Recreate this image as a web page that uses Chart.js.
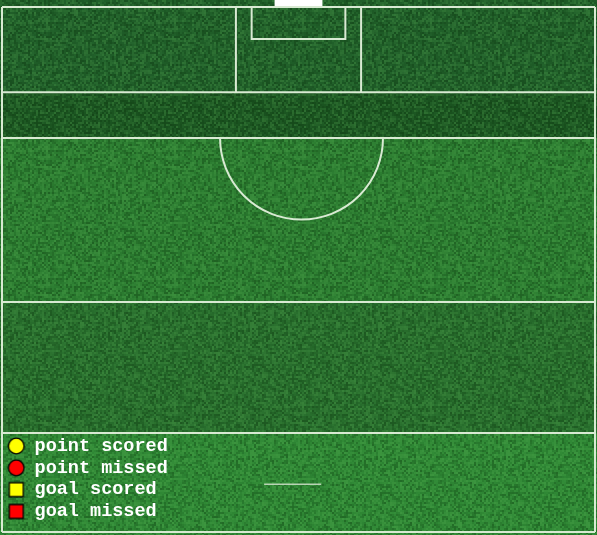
<!DOCTYPE html>
<html>
<head>
<meta charset="utf-8">
<script src="https://cdn.jsdelivr.net/npm/chart.js@4.4.1/dist/chart.umd.min.js"></script>
<style>
html, body { margin: 0; padding: 0; background: #1f5a24; }
#wrap { width: 597px; height: 535px; position: relative; }
</style>
</head>
<body>
<div id="wrap"><canvas id="pitchChart"></canvas></div>
<script>
// legend categories and the shot series (this view has no shots plotted)
const categories = ["point scored", "point missed", "goal scored", "goal missed"];
const fillColors = ["#ffff00", "#ff0000", "#ffff00", "#ff0000"];
const markerStyles = ["circle", "circle", "rect", "rect"];
const pointScored = [];
const pointMissed = [];
const goalScored = [];
const goalMissed = [];
const seriesValues = [pointScored, pointMissed, goalScored, goalMissed];

// pitch in metres: x from left touchline, y from the end line
const PX = 6.554;          // pixels per metre in the picture
const ORIGIN = {x: 2, y: 7};
const pitch = {
    width: 90.48,
    bottom: 80.1,
    lines: [0, 13, 20, 45, 65],
    bigBox: {w: 19.1, d: 13},
    smallBox: {w: 14.3, d: 4.9},
    goalWidth: 7.3,
    arcCentre: 45.7,
    arcRadius: 12.43,
    centreMark: {y: 72.8, x1: 40.0, x2: 48.7}
};
// grass bands (metres) and their colours
const bands = [
    {from: -2, to: 13, color: "#21602a"},
    {from: 13, to: 20, color: "#1d5823"},
    {from: 20, to: 45, color: "#2c7d31"},
    {from: 45, to: 65, color: "#286e2d"},
    {from: 65, to: 90, color: "#2f8835"}
];

function hash(i, j){
    let h = Math.imul(i, 0x27d4eb2d) ^ Math.imul(j + 7919, 0x165667b1);
    h = Math.imul(h ^ (h >>> 15), 0x85ebca6b);
    h ^= h >>> 13;
    h = Math.imul(h, 0xc2b2ae35);
    h ^= h >>> 16;
    return (h >>> 0) / 4294967296;
}

function grassPattern(ctx){
    let c = document.createElement("canvas");
    c.width = 128; c.height = 128;
    let g = c.getContext("2d");
    for (let j = 0; j < 64; j++){
        for (let i = 0; i < 64; i++){
            let v = hash(i, j) - 0.5;
            if (v > 0){
                g.fillStyle = "rgba(110,200,100," + (v * 0.42) + ")";
            } else {
                g.fillStyle = "rgba(0,30,0," + (-v * 0.55) + ")";
            }
            g.fillRect(i * 2, j * 2, 2, 2);
        }
    }
    return ctx.createPattern(c, "repeat");
}

function markerImage(style, color){
    let c = document.createElement("canvas");
    c.width = 18; c.height = 18;
    let g = c.getContext("2d");
    g.fillStyle = color;
    g.strokeStyle = "#000000";
    g.lineWidth = 1.3;
    g.beginPath();
    if (style === "circle"){
        g.arc(9, 9, 7.8, 0, Math.PI * 2);
    } else {
        g.rect(2, 2, 14, 14);
    }
    g.fill();
    g.stroke();
    return c;
}

const pitchPlugin = {
    id: "pitch",
    beforeDraw(chart){
        const ctx = chart.ctx;
        const xs = chart.scales.x, ys = chart.scales.y;
        const W = chart.width, H = chart.height;
        ctx.save();
        // grass
        bands.forEach(b => {
            let top = Math.max(0, ys.getPixelForValue(b.from));
            let bot = Math.min(H, ys.getPixelForValue(b.to));
            ctx.fillStyle = b.color;
            ctx.fillRect(0, top, W, bot - top);
        });
        ctx.fillStyle = grassPattern(ctx);
        ctx.fillRect(0, 0, W, H);

        const xl = xs.getPixelForValue(0), xr = xs.getPixelForValue(pitch.width);
        const y0 = ys.getPixelForValue(0);

        // goal mouth behind the end line
        let gh = pitch.goalWidth / 2;
        let gl = xs.getPixelForValue(pitch.width / 2 - gh);
        ctx.fillStyle = "#ffffff";
        ctx.fillRect(gl, 0, xs.getPixelForValue(pitch.width / 2 + gh) - gl, y0);

        ctx.strokeStyle = "#d9ead3";
        ctx.lineWidth = 2;
        ctx.beginPath();
        pitch.lines.forEach(m => {
            let y = ys.getPixelForValue(m);
            ctx.moveTo(xl, y); ctx.lineTo(xr, y);
        });
        let yb = ys.getPixelForValue(pitch.bottom);
        ctx.moveTo(xl, yb); ctx.lineTo(xr, yb);
        ctx.moveTo(xl, y0); ctx.lineTo(xl, yb);
        ctx.moveTo(xr, y0); ctx.lineTo(xr, yb);
        [pitch.bigBox, pitch.smallBox].forEach(b => {
            let a = xs.getPixelForValue(pitch.width / 2 - b.w / 2);
            let c = xs.getPixelForValue(pitch.width / 2 + b.w / 2);
            let d = ys.getPixelForValue(b.d);
            ctx.moveTo(a, y0); ctx.lineTo(a, d); ctx.lineTo(c, d); ctx.lineTo(c, y0);
        });
        ctx.stroke();

        // 20m arc
        let acx = xs.getPixelForValue(pitch.arcCentre);
        let ay = ys.getPixelForValue(20);
        let r = xs.getPixelForValue(pitch.arcCentre + pitch.arcRadius) - acx;
        ctx.beginPath();
        ctx.arc(acx, ay, r, 0, Math.PI);
        ctx.stroke();

        // centre mark
        let my = ys.getPixelForValue(pitch.centreMark.y);
        ctx.strokeStyle = "rgba(210,225,205,0.85)";
        ctx.lineWidth = 1.5;
        ctx.beginPath();
        ctx.moveTo(xs.getPixelForValue(pitch.centreMark.x1), my);
        ctx.lineTo(xs.getPixelForValue(pitch.centreMark.x2), my);
        ctx.stroke();
        ctx.restore();
    }
};

const padLeft = 4, padBottom = 11;
const canvasW = 597, canvasH = 535;
const legendMarkers = categories.map((n, i) => markerImage(markerStyles[i], fillColors[i]));

new Chart("pitchChart", {
    type: "scatter",
    data: {
        datasets: categories.map((name, i) => ({
            label: name,
            data: seriesValues[i],
            pointStyle: markerStyles[i],
            backgroundColor: fillColors[i],
            borderColor: "#000000",
            borderWidth: 1,
            pointRadius: 7
        }))
    },
    options: {
        responsive: true,
        maintainAspectRatio: false,
        animation: false,
        layout: {padding: {left: padLeft, right: 0, top: 0, bottom: padBottom}},
        scales: {
            x: {
                display: false,
                min: (padLeft - ORIGIN.x) / PX,
                max: (canvasW - ORIGIN.x) / PX
            },
            y: {
                display: false,
                reverse: true,
                min: -ORIGIN.y / PX,
                max: (canvasH - padBottom - ORIGIN.y) / PX
            }
        },
        plugins: {
            tooltip: {enabled: false},
            legend: {
                position: "chartArea",
                align: "end",
                labels: {
                    usePointStyle: true,
                    boxWidth: 18,
                    boxHeight: 12,
                    padding: 3.3,
                    color: "#ffffff",
                    font: {family: "'Liberation Mono', 'Courier New', monospace", size: 18.5, weight: "bold"},
                    generateLabels(chart){
                        let items = Chart.defaults.plugins.legend.labels.generateLabels(chart);
                        items.forEach((it, i) => { it.pointStyle = legendMarkers[i]; });
                        return items;
                    }
                }
            }
        }
    },
    plugins: [pitchPlugin]
});
</script>
</body>
</html>
